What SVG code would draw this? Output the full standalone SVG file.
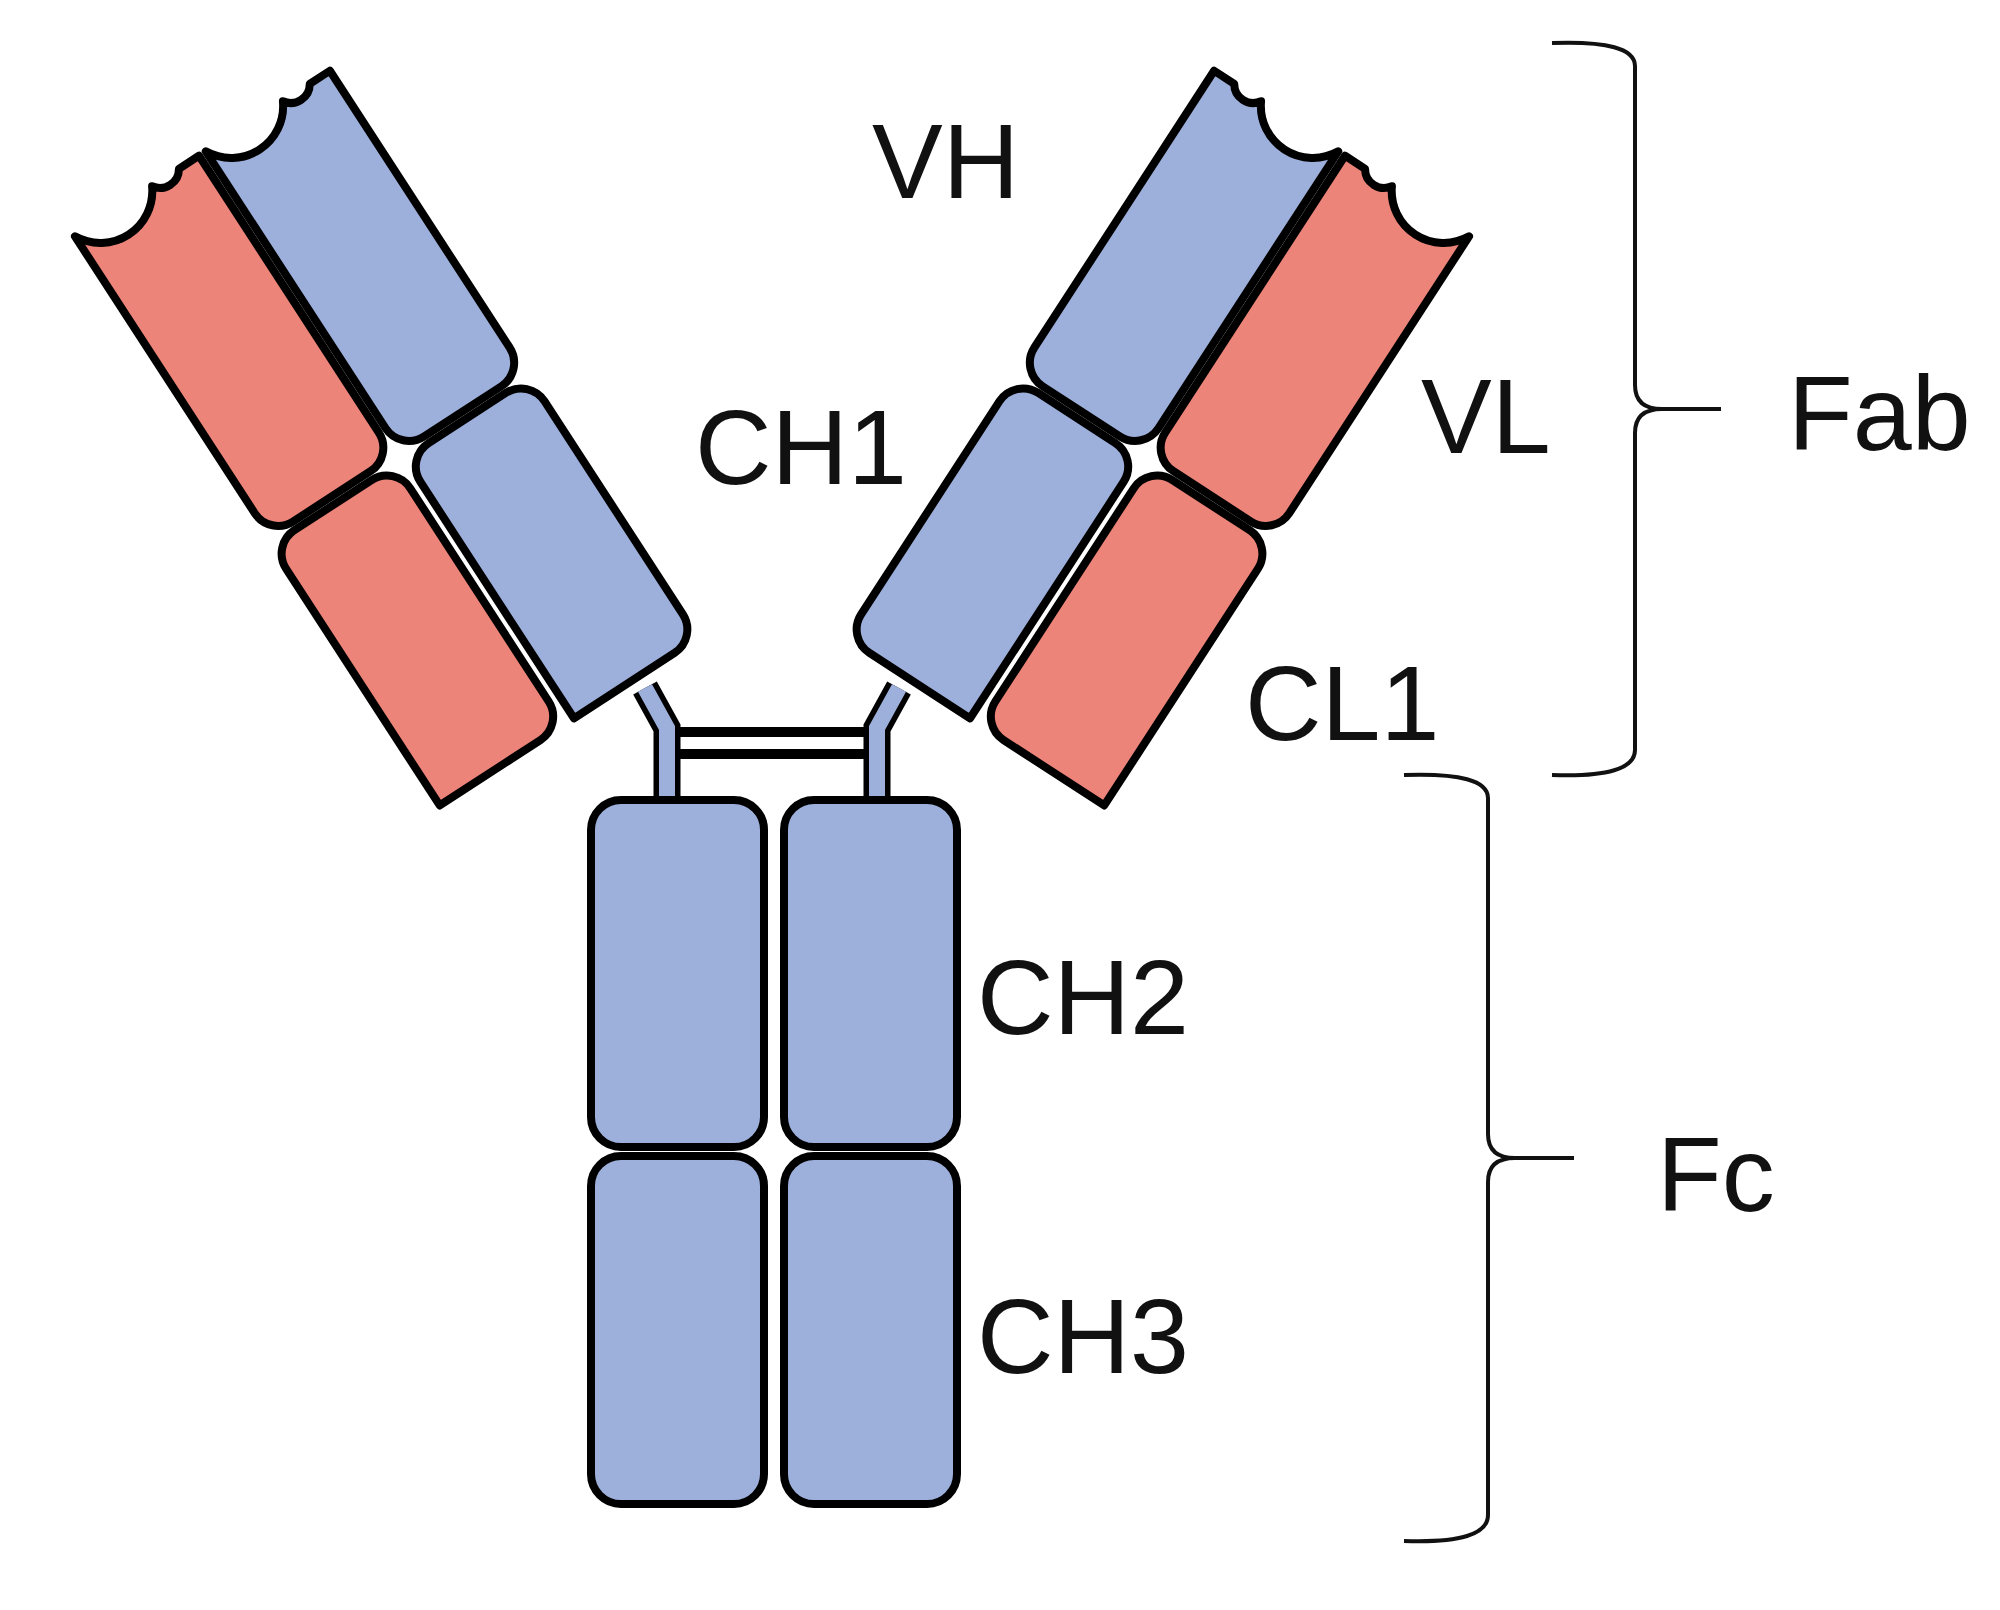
<svg xmlns="http://www.w3.org/2000/svg" width="2000" height="1610" viewBox="0 0 2000 1610">
<style>
.b{fill:#9dafdb;stroke:#000;stroke-width:8;stroke-linejoin:round}
.r{fill:#ec847a;stroke:#000;stroke-width:8;stroke-linejoin:round}
.t{font-family:"Liberation Sans",Arial,sans-serif;font-size:106px;fill:#111}
.br{fill:none;stroke:#111;stroke-width:4}
</style>
<defs>
<g id="arm">
<path class="b" d="M-74,0 L-74,-282 A28 28 0 0 1 -46,-310 L46,-310 A28 28 0 0 1 74,-282 L74,-28 A28 28 0 0 1 46,0 L-46,0 Z"/>
<path class="r" d="M-234,0 L-234,-282 A28 28 0 0 1 -206,-310 L-114,-310 A28 28 0 0 1 -86,-282 L-86,-28 A28 28 0 0 1 -114,0 L-206,0 Z"/>
<path class="b" d="M-74,-676 A52 52 0 0 0 18,-676 A19 19 0 0 0 50,-676 L74,-676 L74,-346 A28 28 0 0 1 46,-318 L-46,-318 A28 28 0 0 1 -74,-346 Z"/>
<path class="r" d="M-230,-676 A52 52 0 0 0 -138,-676 A19 19 0 0 0 -106,-676 L-82,-676 L-82,-346 A28 28 0 0 1 -110,-318 L-202,-318 A28 28 0 0 1 -230,-346 Z"/>
</g>
</defs>
<g id="connectors">
<rect x="675" y="727" width="195" height="10" fill="#000"/>
<rect x="675" y="749" width="195" height="10" fill="#000"/>
<path d="M645,688 L667,728 L667,802" fill="none" stroke="#000" stroke-width="27"/>
<path d="M645,688 L667,728 L667,802" fill="none" stroke="#9dafdb" stroke-width="16"/>
<path d="M899,688 L877,728 L877,802" fill="none" stroke="#000" stroke-width="27"/>
<path d="M899,688 L877,728 L877,802" fill="none" stroke="#9dafdb" stroke-width="16"/>
</g>
<g id="left-arm"><use href="#arm" transform="translate(636,678) rotate(-33)"/></g>
<g id="right-arm"><use href="#arm" transform="translate(908,678) scale(-1,1) rotate(-33)"/></g>
<g id="fc">
<rect class="b" x="591" y="800" width="173" height="347" rx="30"/>
<rect class="b" x="784" y="800" width="173" height="347" rx="30"/>
<rect class="b" x="591" y="1156" width="173" height="348" rx="30"/>
<rect class="b" x="784" y="1156" width="173" height="348" rx="30"/>
</g>
<g id="labels">
<text class="t" x="872" y="198">VH</text>
<text class="t" x="695" y="484">CH1</text>
<text class="t" x="1421" y="453">VL</text>
<text class="t" x="1245" y="740">CL1</text>
<text class="t" x="977" y="1034">CH2</text>
<text class="t" x="977" y="1373">CH3</text>
<text class="t" x="1788" y="450">Fab</text>
<text class="t" x="1657" y="1211">Fc</text>
</g>
<g id="brackets">
<path class="br" d="M1552,43 Q1635,40 1635,66 L1635,385 Q1635,409 1662,409 L1721,409 M1662,409 Q1635,409 1635,433 L1635,750 Q1635,778 1552,775"/>
<path class="br" d="M1404,775 Q1488,772 1488,798 L1488,1134 Q1488,1158 1515,1158 L1574,1158 M1515,1158 Q1488,1158 1488,1182 L1488,1515 Q1488,1544 1404,1541"/>
</g>
</svg>
